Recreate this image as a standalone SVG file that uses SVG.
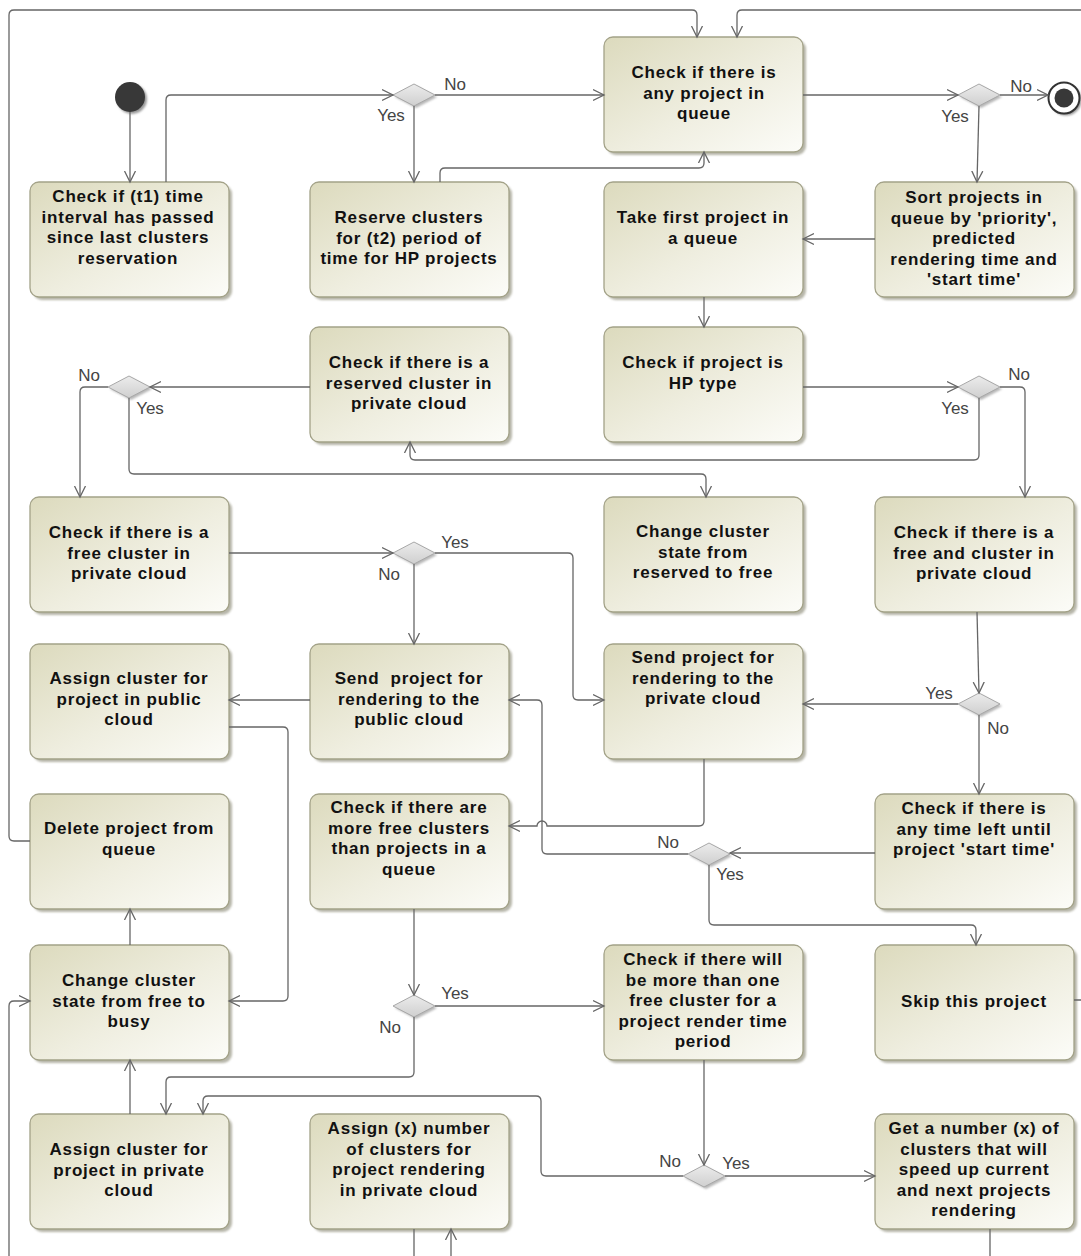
<svg xmlns="http://www.w3.org/2000/svg" width="1081" height="1256" viewBox="0 0 1081 1256">
<defs>
<linearGradient id="gNode" x1="0" y1="0" x2="1" y2="1">
<stop offset="0" stop-color="#dcdabd"/>
<stop offset="0.55" stop-color="#efeee0"/>
<stop offset="1" stop-color="#fcfcf8"/>
</linearGradient>
<linearGradient id="gDia" x1="0" y1="0" x2="0" y2="1">
<stop offset="0" stop-color="#ececec"/>
<stop offset="1" stop-color="#cfcfcf"/>
</linearGradient>
<filter id="blur" x="-10%" y="-10%" width="130%" height="130%">
<feGaussianBlur stdDeviation="1.2"/>
</filter>
<marker id="arr" markerUnits="userSpaceOnUse" markerWidth="14" markerHeight="14" refX="11" refY="6" orient="auto" viewBox="0 0 14 12">
<path d="M0,0.5 L11,6 L0,11.5" fill="none" stroke="#666" stroke-width="1.3"/>
</marker>
</defs>
<style>
.bx{fill:url(#gNode);stroke:#a3a288;stroke-width:1.3}
.sh{fill:#9e9d8c;opacity:0.75;filter:url(#blur)}
.t{font-family:"Liberation Sans",Arial,sans-serif;font-weight:bold;font-size:17px;letter-spacing:0.8px;fill:#111;text-anchor:middle}
.l{font-family:"Liberation Sans",Arial,sans-serif;font-size:17px;fill:#444;text-anchor:middle}
.c{fill:none;stroke:#666;stroke-width:1.3}
.ca{fill:none;stroke:#666;stroke-width:1.3;marker-end:url(#arr)}
.dm{fill:url(#gDia);stroke:#a8a8a8;stroke-width:1}
.dsh{fill:#a5a5a5;opacity:0.8;filter:url(#blur)}
</style>
<rect width="1081" height="1256" fill="#ffffff"/>

<g id="nodes">
<g id="start">
<circle cx="132" cy="99" r="15" fill="#999" filter="url(#blur)"/>
<circle cx="130" cy="97" r="15" fill="#383838"/>
</g>
<g id="end">
<circle cx="1066" cy="100" r="15.5" fill="#999" filter="url(#blur)"/>
<circle cx="1064" cy="98" r="15.5" fill="#fff" stroke="#333" stroke-width="2"/>
<circle cx="1064" cy="98" r="9.5" fill="#383838"/>
</g>

<g id="n-any-project">
<rect class="sh" x="607" y="40" width="199" height="115" rx="9"/>
<rect class="bx" x="604" y="37" width="199" height="115" rx="9"/>
<text class="t"><tspan x="704" y="78">Check if there is</tspan><tspan x="704" y="98.6">any project in</tspan><tspan x="704" y="119.2">queue</tspan></text>
</g>
<g id="n-check-t1">
<rect class="sh" x="33" y="185" width="199" height="115" rx="9"/>
<rect class="bx" x="30" y="182" width="199" height="115" rx="9"/>
<text class="t"><tspan x="128" y="202">Check if (t1) time</tspan><tspan x="128" y="222.6">interval has passed</tspan><tspan x="128" y="243.2">since last clusters</tspan><tspan x="128" y="263.8">reservation</tspan></text>
</g>
<g id="n-reserve">
<rect class="sh" x="313" y="185" width="199" height="115" rx="9"/>
<rect class="bx" x="310" y="182" width="199" height="115" rx="9"/>
<text class="t"><tspan x="409" y="223">Reserve clusters</tspan><tspan x="409" y="243.6">for (t2) period of</tspan><tspan x="409" y="264.2">time for HP projects</tspan></text>
</g>
<g id="n-take-first">
<rect class="sh" x="607" y="185" width="199" height="115" rx="9"/>
<rect class="bx" x="604" y="182" width="199" height="115" rx="9"/>
<text class="t"><tspan x="703" y="223">Take first project in</tspan><tspan x="703" y="243.6">a queue</tspan></text>
</g>
<g id="n-sort">
<rect class="sh" x="878" y="185" width="199" height="115" rx="9"/>
<rect class="bx" x="875" y="182" width="199" height="115" rx="9"/>
<text class="t"><tspan x="974" y="203">Sort projects in</tspan><tspan x="974" y="223.6">queue by 'priority',</tspan><tspan x="974" y="244.2">predicted</tspan><tspan x="974" y="264.8">rendering time and</tspan><tspan x="974" y="285.4">'start time'</tspan></text>
</g>
<g id="n-reserved-cluster">
<rect class="sh" x="313" y="330" width="199" height="115" rx="9"/>
<rect class="bx" x="310" y="327" width="199" height="115" rx="9"/>
<text class="t"><tspan x="409" y="368">Check if there is a</tspan><tspan x="409" y="388.6">reserved cluster in</tspan><tspan x="409" y="409.2">private cloud</tspan></text>
</g>
<g id="n-hp-type">
<rect class="sh" x="607" y="330" width="199" height="115" rx="9"/>
<rect class="bx" x="604" y="327" width="199" height="115" rx="9"/>
<text class="t"><tspan x="703" y="368">Check if project is</tspan><tspan x="703" y="388.6">HP type</tspan></text>
</g>
<g id="n-free-cluster">
<rect class="sh" x="33" y="500" width="199" height="115" rx="9"/>
<rect class="bx" x="30" y="497" width="199" height="115" rx="9"/>
<text class="t"><tspan x="129" y="538">Check if there is a</tspan><tspan x="129" y="558.6">free cluster in</tspan><tspan x="129" y="579.2">private cloud</tspan></text>
</g>
<g id="n-reserved-to-free">
<rect class="sh" x="607" y="500" width="199" height="115" rx="9"/>
<rect class="bx" x="604" y="497" width="199" height="115" rx="9"/>
<text class="t"><tspan x="703" y="537">Change cluster</tspan><tspan x="703" y="557.6">state from</tspan><tspan x="703" y="578.2">reserved to free</tspan></text>
</g>
<g id="n-free-and-cluster">
<rect class="sh" x="878" y="500" width="199" height="115" rx="9"/>
<rect class="bx" x="875" y="497" width="199" height="115" rx="9"/>
<text class="t"><tspan x="974" y="538">Check if there is a</tspan><tspan x="974" y="558.6">free and cluster in</tspan><tspan x="974" y="579.2">private cloud</tspan></text>
</g>
<g id="n-assign-public">
<rect class="sh" x="33" y="647" width="199" height="115" rx="9"/>
<rect class="bx" x="30" y="644" width="199" height="115" rx="9"/>
<text class="t"><tspan x="129" y="684">Assign cluster for</tspan><tspan x="129" y="704.6">project in public</tspan><tspan x="129" y="725.2">cloud</tspan></text>
</g>
<g id="n-send-public">
<rect class="sh" x="313" y="647" width="199" height="115" rx="9"/>
<rect class="bx" x="310" y="644" width="199" height="115" rx="9"/>
<text class="t" xml:space="preserve"><tspan x="409" y="684">Send  project for</tspan><tspan x="409" y="704.6">rendering to the</tspan><tspan x="409" y="725.2">public cloud</tspan></text>
</g>
<g id="n-send-private">
<rect class="sh" x="607" y="647" width="199" height="115" rx="9"/>
<rect class="bx" x="604" y="644" width="199" height="115" rx="9"/>
<text class="t"><tspan x="703" y="663">Send project for</tspan><tspan x="703" y="683.6">rendering to the</tspan><tspan x="703" y="704.2">private cloud</tspan></text>
</g>
<g id="n-delete">
<rect class="sh" x="33" y="797" width="199" height="115" rx="9"/>
<rect class="bx" x="30" y="794" width="199" height="115" rx="9"/>
<text class="t"><tspan x="129" y="834">Delete project from</tspan><tspan x="129" y="854.6">queue</tspan></text>
</g>
<g id="n-more-free">
<rect class="sh" x="313" y="797" width="199" height="115" rx="9"/>
<rect class="bx" x="310" y="794" width="199" height="115" rx="9"/>
<text class="t"><tspan x="409" y="813">Check if there are</tspan><tspan x="409" y="833.6">more free clusters</tspan><tspan x="409" y="854.2">than projects in a</tspan><tspan x="409" y="874.8">queue</tspan></text>
</g>
<g id="n-time-left">
<rect class="sh" x="878" y="797" width="199" height="115" rx="9"/>
<rect class="bx" x="875" y="794" width="199" height="115" rx="9"/>
<text class="t"><tspan x="974" y="814">Check if there is</tspan><tspan x="974" y="834.6">any time left until</tspan><tspan x="974" y="855.2">project 'start time'</tspan></text>
</g>
<g id="n-free-to-busy">
<rect class="sh" x="33" y="948" width="199" height="115" rx="9"/>
<rect class="bx" x="30" y="945" width="199" height="115" rx="9"/>
<text class="t"><tspan x="129" y="986">Change cluster</tspan><tspan x="129" y="1006.6">state from free to</tspan><tspan x="129" y="1027.2">busy</tspan></text>
</g>
<g id="n-more-than-one">
<rect class="sh" x="607" y="948" width="199" height="115" rx="9"/>
<rect class="bx" x="604" y="945" width="199" height="115" rx="9"/>
<text class="t"><tspan x="703" y="965">Check if there will</tspan><tspan x="703" y="985.6">be more than one</tspan><tspan x="703" y="1006.2">free cluster for a</tspan><tspan x="703" y="1026.8">project render time</tspan><tspan x="703" y="1047.4">period</tspan></text>
</g>
<g id="n-skip">
<rect class="sh" x="878" y="948" width="199" height="115" rx="9"/>
<rect class="bx" x="875" y="945" width="199" height="115" rx="9"/>
<text class="t"><tspan x="974" y="1007">Skip this project</tspan></text>
</g>
<g id="n-assign-private">
<rect class="sh" x="33" y="1117" width="199" height="115" rx="9"/>
<rect class="bx" x="30" y="1114" width="199" height="115" rx="9"/>
<text class="t"><tspan x="129" y="1155">Assign cluster for</tspan><tspan x="129" y="1175.6">project in private</tspan><tspan x="129" y="1196.2">cloud</tspan></text>
</g>
<g id="n-assign-x">
<rect class="sh" x="313" y="1117" width="199" height="115" rx="9"/>
<rect class="bx" x="310" y="1114" width="199" height="115" rx="9"/>
<text class="t"><tspan x="409" y="1134">Assign (x) number</tspan><tspan x="409" y="1154.6">of clusters for</tspan><tspan x="409" y="1175.2">project rendering</tspan><tspan x="409" y="1195.8">in private cloud</tspan></text>
</g>
<g id="n-get-number">
<rect class="sh" x="878" y="1117" width="199" height="115" rx="9"/>
<rect class="bx" x="875" y="1114" width="199" height="115" rx="9"/>
<text class="t"><tspan x="974" y="1134">Get a number (x) of</tspan><tspan x="974" y="1154.6">clusters that will</tspan><tspan x="974" y="1175.2">speed up current</tspan><tspan x="974" y="1195.8">and next projects</tspan><tspan x="974" y="1216.4">rendering</tspan></text>
</g>

<g id="d1"><polygon class="dsh" points="395,97 416,86 437,97 416,108"/><polygon class="dm" points="393,95 414,84 435,95 414,106"/></g>
<g id="d2"><polygon class="dsh" points="960,97 981,86 1002,97 981,108"/><polygon class="dm" points="958,95 979,84 1000,95 979,106"/></g>
<g id="d3"><polygon class="dsh" points="960,389 981,378 1002,389 981,400"/><polygon class="dm" points="958,387 979,376 1000,387 979,398"/></g>
<g id="d4"><polygon class="dsh" points="110,389 131,378 152,389 131,400"/><polygon class="dm" points="108,387 129,376 150,387 129,398"/></g>
<g id="d5"><polygon class="dsh" points="395,555 416,544 437,555 416,566"/><polygon class="dm" points="393,553 414,542 435,553 414,564"/></g>
<g id="d6"><polygon class="dsh" points="690,856 711,845 732,856 711,867"/><polygon class="dm" points="688,854 709,843 730,854 709,865"/></g>
<g id="d7"><polygon class="dsh" points="960,706 981,695 1002,706 981,717"/><polygon class="dm" points="958,704 979,693 1000,704 979,715"/></g>
<g id="d8"><polygon class="dsh" points="395,1008 416,997 437,1008 416,1019"/><polygon class="dm" points="393,1006 414,995 435,1006 414,1017"/></g>
<g id="d9"><polygon class="dsh" points="685,1178 706,1167 727,1178 706,1189"/><polygon class="dm" points="683,1176 704,1165 725,1176 704,1187"/></g>
</g>

<g id="connectors">
<path class="ca" d="M130,112 V182"/>
<path class="ca" d="M166,182 V100 Q166,95 171,95 H393"/>
<path class="ca" d="M435,95 H604"/>
<path class="ca" d="M414,106 V182"/>
<path class="ca" d="M440,182 V173 Q440,168 445,168 H699 Q704,168 704,163 V152"/>
<path class="ca" d="M30,841 H14 Q9,841 9,836 V15 Q9,10 14,10 H692 Q697,10 697,15 V37"/>
<path class="ca" d="M1074,1000 H1090 V10 H742 Q737,10 737,15 V37"/>
<path class="ca" d="M803,95 H958"/>
<path class="ca" d="M1000,95 H1048"/>
<path class="ca" d="M979,106 L977,182"/>
<path class="ca" d="M875,239 H803"/>
<path class="ca" d="M704,297 V327"/>
<path class="ca" d="M803,387 H958"/>
<path class="ca" d="M1000,387 H1020 Q1025,387 1025,392 V497"/>
<path class="ca" d="M979,398 V455 Q979,460 974,460 H415 Q410,460 410,455 V442"/>
<path class="ca" d="M310,387 H150"/>
<path class="ca" d="M108,387 H85 Q80,387 80,392 V497"/>
<path class="ca" d="M129,398 V469 Q129,474 134,474 H701 Q706,474 706,479 V497"/>
<path class="ca" d="M229,553 H393"/>
<path class="ca" d="M435,553 H568 Q573,553 573,558 V695 Q573,700 578,700 H604"/>
<path class="ca" d="M414,564 V644"/>
<path class="ca" d="M310,700 H229"/>
<path class="ca" d="M229,727 H283 Q288,727 288,732 V996 Q288,1001 283,1001 H229"/>
<path class="ca" d="M704,759 V821 Q704,826 699,826 H547 A5,5 0 0 0 537,826 H509"/>
<path class="ca" d="M875,853 H730"/>
<path class="ca" d="M688,854 H547 Q542,854 542,849 V705 Q542,700 537,700 H509"/>
<path class="ca" d="M709,865 V920 Q709,925 714,925 H971 Q976,925 976,930 V945"/>
<path class="ca" d="M977,612 L979,693"/>
<path class="ca" d="M958,704 H803"/>
<path class="ca" d="M979,715 V794"/>
<path class="ca" d="M130,945 V909"/>
<path class="ca" d="M414,909 V995"/>
<path class="ca" d="M435,1006 H604"/>
<path class="ca" d="M414,1017 V1072 Q414,1077 409,1077 H171 Q166,1077 166,1082 V1114"/>
<path class="ca" d="M130,1114 V1060"/>
<path class="ca" d="M704,1060 V1165"/>
<path class="ca" d="M725,1176 H875"/>
<path class="ca" d="M683,1176 H546 Q541,1176 541,1171 V1101 Q541,1096 536,1096 H208 Q203,1096 203,1101 V1114"/>
<path class="ca" d="M990,1229 V1275 H451 V1229"/>
<path class="ca" d="M414,1229 V1275 H9 V1006 Q9,1001 14,1001 H30"/>
</g>

<g id="labels">
<text class="l" x="455" y="90">No</text>
<text class="l" x="391" y="121">Yes</text>
<text class="l" x="1021" y="92">No</text>
<text class="l" x="955" y="122">Yes</text>
<text class="l" x="1019" y="380">No</text>
<text class="l" x="955" y="414">Yes</text>
<text class="l" x="89" y="381">No</text>
<text class="l" x="150" y="414">Yes</text>
<text class="l" x="455" y="548">Yes</text>
<text class="l" x="389" y="580">No</text>
<text class="l" x="668" y="848">No</text>
<text class="l" x="730" y="880">Yes</text>
<text class="l" x="939" y="699">Yes</text>
<text class="l" x="998" y="734">No</text>
<text class="l" x="455" y="999">Yes</text>
<text class="l" x="390" y="1033">No</text>
<text class="l" x="670" y="1167">No</text>
<text class="l" x="736" y="1169">Yes</text>
</g>
</svg>
